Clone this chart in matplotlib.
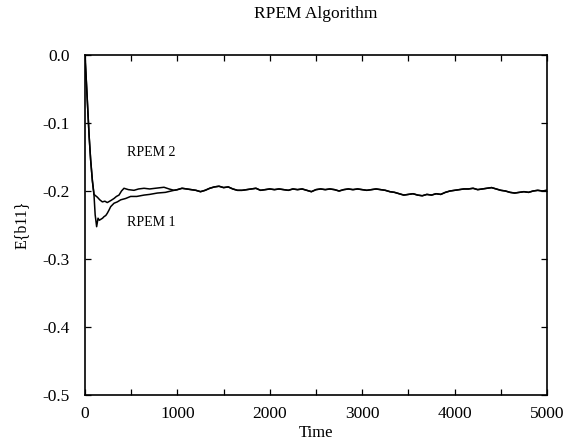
import matplotlib
matplotlib.use("Agg")
import matplotlib.pyplot as plt
from matplotlib.ticker import MultipleLocator

# ---- data ----
t_start = [0, 15, 30, 45, 61, 80, 97]
v_start = [0.0, -0.04, -0.08, -0.12, -0.154, -0.185, -0.205]

t_rpem1_early = [110, 126, 141, 155, 170, 190, 206, 225, 241, 260, 278, 314, 350,
                 386, 440, 494, 560, 639, 700, 783, 870, 963]
v_rpem1_early = [-0.235, -0.2525, -0.240, -0.243, -0.2417, -0.240, -0.2377, -0.236,
                 -0.2328, -0.228, -0.223, -0.218, -0.216, -0.213, -0.211, -0.208,
                 -0.208, -0.206, -0.205, -0.203, -0.202, -0.199]

t_rpem2_early = [115, 133, 160, 188, 215, 241, 280, 314, 340, 368, 395, 422, 470,
                 530, 580, 639, 700, 760, 855, 910, 963]
v_rpem2_early = [-0.207, -0.209, -0.213, -0.216, -0.215, -0.217, -0.214, -0.211,
                 -0.208, -0.206, -0.200, -0.196, -0.198, -0.199, -0.197, -0.196,
                 -0.197, -0.196, -0.1945, -0.197, -0.199]

t_tail = list(range(1000, 5001, 50))
v_tail = [-0.198, -0.196, -0.197, -0.198, -0.199, -0.201, -0.199, -0.196, -0.194,
          -0.193, -0.195, -0.194, -0.197, -0.199, -0.199, -0.198, -0.197, -0.196,
          -0.199, -0.198, -0.197, -0.198, -0.197, -0.198, -0.199, -0.197, -0.198,
          -0.197, -0.199, -0.201, -0.198, -0.197, -0.198, -0.197, -0.198, -0.200,
          -0.198, -0.197, -0.198, -0.197, -0.198, -0.199, -0.198, -0.197, -0.198,
          -0.199, -0.201, -0.202, -0.204, -0.206, -0.205, -0.204, -0.206, -0.207,
          -0.205, -0.206, -0.204, -0.205, -0.202, -0.200, -0.199, -0.198, -0.197,
          -0.197, -0.196, -0.198, -0.197, -0.196, -0.195, -0.197, -0.199, -0.200,
          -0.202, -0.203, -0.202, -0.201, -0.202, -0.200, -0.199, -0.200, -0.199]

labels = ["RPEM 1", "RPEM 2"]
x_ticks = [0, 1000, 2000, 3000, 4000, 5000]
y_ticks = [0.0, -0.1, -0.2, -0.3, -0.4, -0.5]

t1 = t_start + t_rpem1_early + t_tail
v1 = v_start + v_rpem1_early + v_tail
t2 = t_start + t_rpem2_early + t_tail
v2 = v_start + v_rpem2_early + v_tail

# ---- plot ----
plt.rcParams['font.family'] = ['Liberation Serif', 'DejaVu Serif']
fig = plt.figure(figsize=(5.70, 4.46), dpi=100)
ax = fig.add_axes([85/570, 1-395/446, (547-85)/570, (395-55)/446])

ax.plot(t1, v1, color='black', lw=1.1)
ax.plot(t2, v2, color='black', lw=1.1)

ax.set_xlim(0, 5000)
ax.set_ylim(-0.5, 0.0)
ax.set_xticks(x_ticks)
ax.set_xticklabels([str(x) for x in x_ticks])
ax.set_yticks(y_ticks)
ax.set_yticklabels([f"{y:.1f}" if y != 0 else "0.0" for y in y_ticks])
ax.xaxis.set_minor_locator(MultipleLocator(500))

ax.tick_params(axis='both', which='both', direction='in', top=True, right=True,
               labelsize=12.5, color='black')
ax.tick_params(axis='both', which='major', length=4, width=0.9)
ax.tick_params(axis='both', which='minor', length=4, width=0.9)
ax.tick_params(axis='y', pad=11)
ax.tick_params(axis='x', pad=8)
for s in ax.spines.values():
    s.set_linewidth(1.2)

ax.set_xlabel("Time", fontsize=12, labelpad=2)
ax.set_ylabel("E{b11}", fontsize=11.5, labelpad=9)
ax.set_title("RPEM Algorithm", fontsize=12.5, pad=27)

ax.text(455, -0.246, labels[0], fontsize=10, va='center', ha='left')
ax.text(455, -0.144, labels[1], fontsize=10, va='center', ha='left')

fig.savefig("out.png", dpi=100)
